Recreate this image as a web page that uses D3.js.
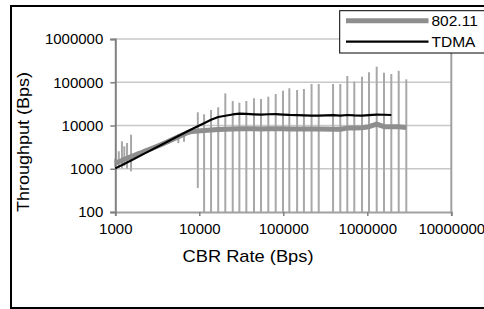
<!DOCTYPE html>
<html>
<head>
<meta charset="utf-8">
<script src="https://cdn.jsdelivr.net/npm/d3@7"></script>
<style>
  body { margin: 0; background: #fff; }
  svg { display: block; font-family: "Liberation Sans", Arial, sans-serif; }
</style>
</head>
<body>
<svg id="svg" width="484" height="309"></svg>
<script>
// CBR rate (x) for the 802.11 runs, with mean throughput and error bar ends
const rates80211 = [
  1000, 1100, 1200, 1280, 1380, 1540, 1700, 1900, 2100, 2300, 2600, 2900,
  3200, 3600, 4000, 4500, 5000, 5630, 6580, 7300, 8200,
  9600, 11400, 13800, 16800, 20400, 25000, 30000, 36300, 44800, 54300,
  66300, 81200, 99200, 118000, 146000, 176000, 217000, 264000, 391000,
  477000, 578000, 700000, 865000, 1047000, 1294000, 1581000, 1931000,
  2365000, 2912000,
];
const thr80211 = [
  1350, 1450, 1550, 1650, 1750, 1900, 2050, 2250, 2400, 2600, 2850, 3100,
  3350, 3700, 4050, 4500, 4950, 5500, 6300, 6900, 7300,
  7500, 7700, 7900, 8100, 8200, 8300, 8400, 8400, 8400, 8300,
  8400, 8400, 8400, 8300, 8300, 8300, 8300, 8300, 8200,
  8200, 8700, 8800, 8900, 9400, 10800, 9400, 9300,
  9400, 9000,
];
// lower ends under 100 run off the bottom of the log axis
const errLow80211 = [
  1100, 1050, 1020, 1150, 1000, 870, 1800, 2000, 2200, 2400, 2600, 2900,
  3100, 3400, 3800, 4200, 4600, 3900, 4200, 6800, 7000,
  360, 10, 10, 10, 10, 10, 10, 10, 10, 10,
  10, 10, 10, 10, 10, 10, 10, 10, 10,
  10, 10, 10, 10, 10, 10, 10, 10,
  10, 10,
];
const errHigh80211 = [
  1700, 2540, 4300, 3300, 3940, 6140, 2300, 2500, 2700, 2900, 3200, 3500,
  3700, 4100, 4500, 5000, 5500, 6300, 7000, 7900, 8300,
  20200, 18150, 22800, 26400, 55500, 36900, 33700, 36900, 42600, 41000,
  46300, 53500, 63800, 72500, 66200, 69800, 91100, 91100, 91100,
  91100, 139500, 103000, 134400, 169900, 229000, 166300, 155200,
  184000, 117000,
];

const ratesTdma = [
  1000, 1540, 2300, 3600, 5630, 8200, 9600, 11400, 13800, 16800, 20400,
  25000, 30000, 36300, 44800, 54300, 66300, 81200, 99200, 118000, 146000,
  176000, 217000, 264000, 391000, 477000, 578000, 700000, 865000, 1047000,
  1294000, 1581000, 1931000,
];
const thrTdma = [
  1020, 1560, 2330, 3650, 5700, 8300, 9600, 11300, 13600, 15700, 16800,
  18000, 18900, 18600, 18100, 17800, 18200, 18400, 17900, 17600, 17400,
  17100, 16900, 16900, 17300, 17000, 17500, 17100, 17000, 17400,
  17800, 17700, 17500,
];

const xTicks = [1000, 10000, 100000, 1000000, 10000000];
const yTicks = [100, 1000, 10000, 100000, 1000000];
const seriesNames = ["802.11", "TDMA"];

const svg = d3.select("#svg");

// outer chart frame (right side runs past the picture)
svg.append("rect")
  .attr("x", 11).attr("y", 6)
  .attr("width", 500).attr("height", 302)
  .attr("fill", "#fff")
  .attr("stroke", "#000")
  .attr("stroke-width", 2);

const x = d3.scaleLog().domain([1000, 10000000]).range([115.3, 451.3]);
const y = d3.scaleLog().domain([100, 1000000]).range([212, 39]).clamp(true);

// horizontal gridlines
svg.append("g")
  .selectAll("line")
  .data(yTicks.slice(1))
  .join("line")
  .attr("x1", x.range()[0]).attr("x2", x.range()[1])
  .attr("y1", (d) => y(d)).attr("y2", (d) => y(d))
  .attr("stroke", "#c8c8c8")
  .attr("stroke-width", 1.7);

// right border of the plot area
svg.append("line")
  .attr("x1", x.range()[1]).attr("x2", x.range()[1])
  .attr("y1", y.range()[1]).attr("y2", y.range()[0])
  .attr("stroke", "#a0a0a0")
  .attr("stroke-width", 2);

// error bars
const bars = d3.range(rates80211.length);
svg.append("g")
  .selectAll("line")
  .data(bars)
  .join("line")
  .attr("x1", (i) => x(rates80211[i])).attr("x2", (i) => x(rates80211[i]))
  .attr("y1", (i) => y(errLow80211[i])).attr("y2", (i) => y(errHigh80211[i]))
  .attr("stroke", "#a8a8a8")
  .attr("stroke-width", 2);

// axes
const xAxis = svg.append("g")
  .attr("transform", `translate(0,${y.range()[0]})`)
  .call(d3.axisBottom(x).tickValues(xTicks).tickFormat(d3.format("d"))
    .tickSize(4).tickPadding(7));
const yAxis = svg.append("g")
  .attr("transform", `translate(${x.range()[0]},0)`)
  .call(d3.axisLeft(y).tickValues(yTicks).tickFormat(d3.format("d"))
    .tickSize(5).tickPadding(7));

xAxis.select(".domain").attr("stroke", "#a0a0a0").attr("stroke-width", 2);
yAxis.select(".domain").attr("stroke", "#808080").attr("stroke-width", 2);
xAxis.selectAll(".tick line").attr("stroke", "#808080").attr("stroke-width", 1.5);
yAxis.selectAll(".tick line").attr("stroke", "#808080").attr("stroke-width", 1.5);
svg.selectAll(".tick text")
  .attr("font-family", "Liberation Sans, Arial, sans-serif")
  .attr("font-size", 15)
  .attr("fill", "#000");

// series lines
const line80211 = d3.line()
  .x((i) => x(rates80211[i]))
  .y((i) => y(thr80211[i]));
svg.append("path")
  .attr("d", line80211(bars))
  .attr("fill", "none")
  .attr("stroke", "#8e8e8e")
  .attr("stroke-width", 5)
  .attr("stroke-linejoin", "round");

const lineTdma = d3.line()
  .x((i) => x(ratesTdma[i]))
  .y((i) => y(thrTdma[i]));
svg.append("path")
  .attr("d", lineTdma(d3.range(ratesTdma.length)))
  .attr("fill", "none")
  .attr("stroke", "#000")
  .attr("stroke-width", 2.2)
  .attr("stroke-linejoin", "round");

// axis titles
svg.append("text")
  .attr("x", 248).attr("y", 262)
  .attr("text-anchor", "middle")
  .attr("font-size", 17)
  .attr("textLength", 131)
  .attr("lengthAdjust", "spacingAndGlyphs")
  .text("CBR Rate (Bps)");

svg.append("text")
  .attr("transform", "translate(29,142) rotate(-90)")
  .attr("text-anchor", "middle")
  .attr("font-size", 17)
  .attr("textLength", 140)
  .attr("lengthAdjust", "spacingAndGlyphs")
  .text("Throughput (Bps)");

// legend
const legend = svg.append("g");
legend.append("rect")
  .attr("x", 339.7).attr("y", 10.7)
  .attr("width", 160).attr("height", 42.3)
  .attr("fill", "#fff")
  .attr("stroke", "#000")
  .attr("stroke-width", 1);
const legendStyle = [
  { stroke: "#8e8e8e", width: 5, y: 20.7 },
  { stroke: "#000", width: 2.2, y: 41.7 },
];
seriesNames.forEach((name, i) => {
  const s = legendStyle[i];
  legend.append("line")
    .attr("x1", 346).attr("x2", 428.5)
    .attr("y1", s.y).attr("y2", s.y)
    .attr("stroke", s.stroke)
    .attr("stroke-width", s.width);
  legend.append("text")
    .attr("x", 431.5).attr("y", s.y + 5.5)
    .attr("font-size", 15.5)
    .text(name);
});
</script>
</body>
</html>
